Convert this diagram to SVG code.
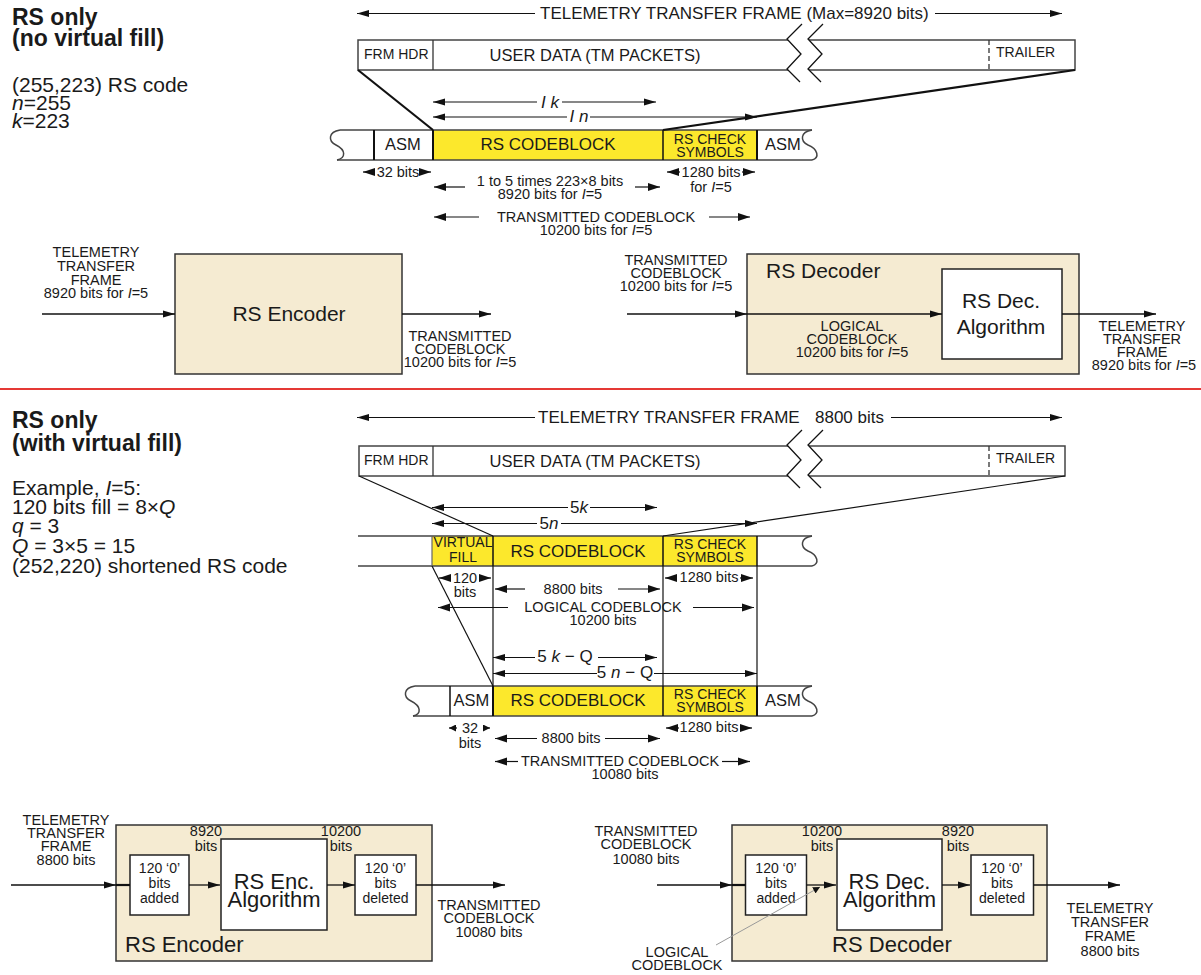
<svg xmlns="http://www.w3.org/2000/svg" width="1201" height="975" viewBox="0 0 1201 975">
<defs>
<style>
.f{font-family:'Liberation Sans',Arial,Helvetica,sans-serif;fill:#1a1a1a}
.s{font-size:14.5px}
.s14{font-size:14px}
.m{font-size:17px}
.l{font-size:21px}
.b{font-size:22px}
.h{font-size:23px;font-weight:bold}
.c{text-anchor:middle}
.i{font-style:italic}
.ln{stroke:#111;stroke-width:1.3;fill:none}
.dm{stroke:#111;stroke-width:1.2;fill:none}
.box{fill:#F5EBD2;stroke:#333;stroke-width:1.5}
.wb{fill:#fff;stroke:#222;stroke-width:1.5}
.fr{fill:#fff;stroke:#444;stroke-width:1.5}
.y{fill:#FCE82C}
.rl{stroke:#444;stroke-width:1.5;fill:none}
.dv{stroke:#111;stroke-width:2}
.dv1{stroke:#111;stroke-width:1.5}
.ck{font-size:14px}
</style>
<marker id="a" viewBox="0 0 12 8" refX="12" refY="4" markerWidth="12" markerHeight="8" markerUnits="userSpaceOnUse" orient="auto-start-reverse"><path d="M0,0.6 L12,4 L0,7.4z" fill="#111"/></marker>
<marker id="d" viewBox="0 0 12 9" refX="12" refY="4.5" markerWidth="12" markerHeight="9" markerUnits="userSpaceOnUse" orient="auto-start-reverse"><path d="M0,0.5 L12,4.5 L0,8.5z" fill="#111"/></marker>
<marker id="sm" viewBox="0 0 7 7" refX="7" refY="3.5" markerWidth="7" markerHeight="7" markerUnits="userSpaceOnUse" orient="auto-start-reverse"><path d="M0,0 L7,3.5 L0,7z" fill="#111"/></marker>
</defs>
<rect width="1201" height="975" fill="#fff"/>

<g id="notes-top">
<text class="f h" x="12" y="25">RS only</text>
<text class="f h" x="12" y="46">(no virtual fill)</text>
<text class="f l" x="12" y="92">(255,223) RS code</text>
<text class="f l" x="12" y="110"><tspan class="i">n</tspan>=255</text>
<text class="f l" x="12" y="128"><tspan class="i">k</tspan>=223</text>
</g>
<g id="notes-bottom">
<text class="f h" x="12" y="428">RS only</text>
<text class="f h" x="12" y="451">(with virtual fill)</text>
<text class="f l" x="12" y="495">Example, <tspan class="i">I</tspan>=5:</text>
<text class="f l" x="12" y="514">120 bits fill = 8×<tspan class="i">Q</tspan></text>
<text class="f l" x="12" y="533"><tspan class="i">q</tspan> = 3</text>
<text class="f l" x="12" y="553"><tspan class="i">Q</tspan> = 3×5 = 15</text>
<text class="f l" x="12" y="573">(252,220) shortened RS code</text>
</g>

<line x1="0" y1="389" x2="1201" y2="389" stroke="#E53935" stroke-width="2"/>

<g id="frame-top">
<rect class="fr" x="358" y="40" width="717" height="30"/>
<line x1="433" y1="40" x2="433" y2="70" stroke="#333" stroke-width="1.3"/>
<line x1="989" y1="40" x2="989" y2="70" stroke="#333" stroke-width="1.3" stroke-dasharray="5,3"/>
<polygon points="802,24 787,39 801,54 787,69 800,82 821,82 808,69 822,54 808,39 823,24" fill="#fff"/>
<polyline class="ln" points="802,24 787,39 801,54 787,69 800,82"/>
<polyline class="ln" points="823,24 808,39 822,54 808,69 821,82"/>
<text class="f s14" x="364" y="59">FRM HDR</text>
<text class="f c" style="font-size:16.5px" x="595" y="61">USER DATA (TM PACKETS)</text>
<text class="f s14" x="996" y="57">TRAILER</text>
</g>
<g id="frame-bottom">
<rect class="fr" x="359" y="446" width="706" height="30"/>
<line x1="433" y1="446" x2="433" y2="476" stroke="#333" stroke-width="1.3"/>
<line x1="989" y1="446" x2="989" y2="476" stroke="#333" stroke-width="1.3" stroke-dasharray="5,3"/>
<polygon points="802,430 787,445 801,460 787,475 800,488 821,488 808,475 822,460 808,445 823,430" fill="#fff"/>
<polyline class="ln" points="802,430 787,445 801,460 787,475 800,488"/>
<polyline class="ln" points="823,430 808,445 822,460 808,475 821,488"/>
<text class="f s14" x="364" y="465">FRM HDR</text>
<text class="f c" style="font-size:16.5px" x="595" y="467">USER DATA (TM PACKETS)</text>
<text class="f s14" x="996" y="463">TRAILER</text>
</g>

<g id="codeblock-top">
<rect class="y" x="433" y="130" width="324" height="30"/>
<path class="rl" d="M340,130 H812 M337,160 H812"/>
<path class="rl" d="M340,130 C328,132 328,141 336,145 C346,150 346,158 337,160"/>
<path class="rl" d="M812,130 C800,132 800,141 808,145 C818,149 820,158 812,160"/>
<line class="dv" x1="374" y1="130" x2="374" y2="160"/>
<line class="dv" x1="433" y1="130" x2="433" y2="160"/>
<line class="dv1" x1="663" y1="130" x2="663" y2="160"/>
<line class="dv" x1="757" y1="130" x2="757" y2="160"/>
<text class="f c" style="font-size:16.5px" x="403" y="150">ASM</text>
<text class="f c" style="font-size:17px" x="548" y="150">RS CODEBLOCK</text>
<text class="f c ck" x="710" y="144">RS CHECK</text>
<text class="f c ck" x="710" y="157">SYMBOLS</text>
<text class="f c" style="font-size:16.5px" x="783" y="150">ASM</text>
</g>

<g id="codeblock-logical">
<rect class="y" x="432" y="536" width="325" height="30"/>
<path class="rl" d="M358,536 H812 M358,566 H812"/>
<path class="rl" d="M812,536 C800,538 800,547 808,551 C818,555 820,564 812,566"/>
<line stroke="#666" stroke-width="1.2" x1="432" y1="536" x2="432" y2="566"/>
<line class="dv1" x1="493" y1="536" x2="493" y2="566"/>
<line class="dv1" x1="663" y1="536" x2="663" y2="566"/>
<line class="dv1" x1="757" y1="536" x2="757" y2="566"/>
<text class="f c" style="font-size:14px" x="463" y="547">VIRTUAL</text>
<text class="f c" style="font-size:14px" x="463" y="562">FILL</text>
<text class="f c" style="font-size:17px" x="578" y="557">RS CODEBLOCK</text>
<text class="f c ck" x="710" y="549">RS CHECK</text>
<text class="f c ck" x="710" y="562">SYMBOLS</text>
</g>

<g id="codeblock-transmitted">
<rect class="y" x="493" y="686" width="264" height="30"/>
<path class="rl" d="M415,686 H812 M413,716 H812"/>
<path class="rl" d="M415,686 C403,688 403,697 411,701 C421,706 422,714 413,716"/>
<path class="rl" d="M812,686 C800,688 800,697 808,701 C818,705 820,714 812,716"/>
<line class="dv1" x1="450" y1="686" x2="450" y2="716"/>
<line class="dv" x1="493" y1="686" x2="493" y2="716"/>
<line class="dv1" x1="663" y1="686" x2="663" y2="716"/>
<line class="dv" x1="757" y1="686" x2="757" y2="716"/>
<text class="f c" style="font-size:16.5px" x="471.5" y="706">ASM</text>
<text class="f c" style="font-size:17px" x="578" y="706">RS CODEBLOCK</text>
<text class="f c ck" x="710" y="699">RS CHECK</text>
<text class="f c ck" x="710" y="712">SYMBOLS</text>
<text class="f c" style="font-size:16.5px" x="783" y="706">ASM</text>
</g>

<g id="rs-encoder-top">
<rect class="box" x="175" y="254" width="227" height="120"/>
<text class="f c l" x="289" y="321">RS Encoder</text>
</g>
<g id="rs-decoder-top">
<rect class="box" x="747" y="254" width="332" height="120"/>
<text class="f l" x="766" y="278">RS Decoder</text>
<rect class="wb" x="942" y="269" width="120" height="90"/>
<text class="f c l" x="1001" y="308">RS Dec.</text>
<text class="f c l" x="1001" y="334">Algorithm</text>
</g>

<g id="rs-encoder-bottom">
<rect class="box" x="116" y="825" width="316" height="136"/>
<text class="f b" x="125" y="952">RS Encoder</text>
<rect class="wb" x="130" y="855" width="59" height="60"/>
<text class="f c s14" x="159.5" y="873">120 ‘0’</text>
<text class="f c s14" x="159.5" y="888">bits</text>
<text class="f c s14" x="159.5" y="903">added</text>
<rect class="wb" x="221" y="839" width="106" height="91"/>
<text class="f c b" x="274" y="889">RS Enc.</text>
<text class="f c b" x="274" y="907">Algorithm</text>
<rect class="wb" x="355" y="855" width="61" height="60"/>
<text class="f c s14" x="385.5" y="873">120 ‘0’</text>
<text class="f c s14" x="385.5" y="888">bits</text>
<text class="f c s14" x="385.5" y="903">deleted</text>
<text class="f c s" x="206" y="836">8920</text>
<text class="f c s" x="206" y="851">bits</text>
<text class="f c s" x="341" y="836">10200</text>
<text class="f c s" x="341" y="851">bits</text>
</g>

<g id="rs-decoder-bottom">
<rect class="box" x="732" y="825" width="315" height="136"/>
<text class="f c b" x="892" y="952">RS Decoder</text>
<rect class="wb" x="745.5" y="855" width="61" height="60"/>
<text class="f c s14" x="776" y="873">120 ‘0’</text>
<text class="f c s14" x="776" y="888">bits</text>
<text class="f c s14" x="776" y="903">added</text>
<rect class="wb" x="837" y="839" width="105" height="91"/>
<text class="f c b" x="889.5" y="889">RS Dec.</text>
<text class="f c b" x="889.5" y="907">Algorithm</text>
<rect class="wb" x="971" y="855" width="62.5" height="60"/>
<text class="f c s14" x="1002" y="873">120 ‘0’</text>
<text class="f c s14" x="1002" y="888">bits</text>
<text class="f c s14" x="1002" y="903">deleted</text>
<text class="f c s" x="822" y="836">10200</text>
<text class="f c s" x="822" y="851">bits</text>
<text class="f c s" x="958" y="836">8920</text>
<text class="f c s" x="958" y="851">bits</text>
</g>

<g id="connectors">
<line x1="358" y1="70" x2="433" y2="130" stroke="#111" stroke-width="2.2"/>
<line x1="1075" y1="70" x2="663" y2="130" stroke="#111" stroke-width="2.2"/>
<line class="dm" x1="359" y1="476" x2="493" y2="536"/>
<line class="dm" x1="1065" y1="476" x2="663" y2="536"/>
<line class="dm" x1="432" y1="566" x2="493" y2="686"/>
<line class="dm" x1="493" y1="566" x2="493" y2="686"/>
<line class="dm" x1="663" y1="566" x2="663" y2="686"/>
<line class="dm" x1="757" y1="566" x2="757" y2="686"/>

<line class="dm" x1="535" y1="13.5" x2="357" y2="13.5" marker-end="url(#a)"/>
<line class="dm" x1="935" y1="13.5" x2="1062" y2="13.5" marker-end="url(#a)"/>
<line class="dm" x1="535" y1="417.5" x2="357" y2="417.5" marker-end="url(#a)"/>
<line class="dm" x1="891" y1="417.5" x2="1062" y2="417.5" marker-end="url(#a)"/>

<line class="dm" x1="537" y1="102" x2="433" y2="102" marker-end="url(#a)"/>
<line class="dm" x1="562" y1="102" x2="656" y2="102" marker-end="url(#a)"/>
<line class="dm" x1="567" y1="117" x2="433" y2="117" marker-end="url(#a)"/>
<line class="dm" x1="590" y1="117" x2="757" y2="117" marker-end="url(#a)"/>
<line class="dm" x1="374" y1="172" x2="363" y2="172" marker-end="url(#d)"/>
<line class="dm" x1="420" y1="172" x2="431" y2="172" marker-end="url(#d)"/>
<line class="dm" x1="680" y1="172" x2="667" y2="172" marker-end="url(#d)"/>
<line class="dm" x1="742" y1="172" x2="755" y2="172" marker-end="url(#d)"/>
<line class="dm" x1="465" y1="187" x2="434" y2="187" marker-end="url(#d)" stroke-width="1.5"/>
<line class="dm" x1="635" y1="187" x2="660" y2="187" marker-end="url(#d)" stroke-width="1.5"/>
<line class="dm" x1="479" y1="217" x2="434" y2="217" marker-end="url(#d)" stroke-width="1.5"/>
<line class="dm" x1="709" y1="217" x2="750" y2="217" marker-end="url(#d)" stroke-width="1.5"/>

<line class="dm" x1="568" y1="507.5" x2="432" y2="507.5" marker-end="url(#a)"/>
<line class="dm" x1="590" y1="507.5" x2="657" y2="507.5" marker-end="url(#a)"/>
<line class="dm" x1="537" y1="523.5" x2="432" y2="523.5" marker-end="url(#a)"/>
<line class="dm" x1="561" y1="523.5" x2="757" y2="523.5" marker-end="url(#a)"/>
<line class="dm" x1="451" y1="578" x2="439" y2="578" marker-end="url(#d)"/>
<line class="dm" x1="479" y1="578" x2="491" y2="578" marker-end="url(#d)"/>
<line class="dm" x1="525" y1="589" x2="495" y2="589" marker-end="url(#d)" stroke-width="1.5"/>
<line class="dm" x1="618" y1="589" x2="660" y2="589" marker-end="url(#d)" stroke-width="1.5"/>
<line class="dm" x1="677" y1="578" x2="665" y2="578" marker-end="url(#d)"/>
<line class="dm" x1="740" y1="578" x2="753" y2="578" marker-end="url(#d)"/>
<line class="dm" x1="508" y1="607.5" x2="438" y2="607.5" marker-end="url(#d)" stroke-width="1.5"/>
<line class="dm" x1="693" y1="607.5" x2="754" y2="607.5" marker-end="url(#d)" stroke-width="1.5"/>

<line class="dm" x1="535" y1="657.5" x2="493" y2="657.5" marker-end="url(#a)"/>
<line class="dm" x1="598" y1="657.5" x2="657" y2="657.5" marker-end="url(#a)"/>
<line class="dm" x1="597" y1="673.5" x2="493" y2="673.5" marker-end="url(#a)"/>
<line class="dm" x1="654" y1="673.5" x2="757" y2="673.5" marker-end="url(#a)"/>
<line class="dm" x1="457" y1="728" x2="449" y2="728" marker-end="url(#sm)"/>
<line class="dm" x1="483" y1="728" x2="490" y2="728" marker-end="url(#sm)"/>
<line class="dm" x1="537" y1="738.5" x2="495" y2="738.5" marker-end="url(#d)" stroke-width="1.5"/>
<line class="dm" x1="605" y1="738.5" x2="660" y2="738.5" marker-end="url(#d)" stroke-width="1.5"/>
<line class="dm" x1="679" y1="728" x2="666" y2="728" marker-end="url(#d)"/>
<line class="dm" x1="740" y1="728" x2="752" y2="728" marker-end="url(#d)"/>
<line class="dm" x1="518" y1="761.5" x2="495" y2="761.5" marker-end="url(#d)" stroke-width="1.5"/>
<line class="dm" x1="722" y1="761.5" x2="750" y2="761.5" marker-end="url(#d)" stroke-width="1.5"/>

<line class="ln" x1="42" y1="314" x2="175" y2="314" marker-end="url(#a)"/>
<line class="ln" x1="402" y1="314" x2="491" y2="314" marker-end="url(#a)"/>
<line class="ln" x1="627" y1="314" x2="747" y2="314" marker-end="url(#a)"/>
<line class="ln" x1="747" y1="314" x2="942" y2="314" marker-end="url(#a)"/>
<line class="ln" x1="1062" y1="314" x2="1156" y2="314" marker-end="url(#a)"/>

<line class="ln" x1="11" y1="885" x2="116" y2="885" marker-end="url(#a)"/>
<line x1="116" y1="885" x2="130" y2="885" stroke="#111" stroke-width="2.2"/>
<line class="ln" x1="189" y1="885" x2="220" y2="885" marker-end="url(#a)"/>
<line class="ln" x1="327" y1="885" x2="355" y2="885" marker-end="url(#a)"/>
<line class="ln" x1="416" y1="885" x2="505" y2="885" marker-end="url(#a)"/>

<line class="ln" x1="657" y1="885" x2="732" y2="885" marker-end="url(#a)"/>
<line x1="732" y1="885" x2="745.5" y2="885" stroke="#111" stroke-width="2.2"/>
<line class="ln" x1="806.5" y1="885" x2="836" y2="885" marker-end="url(#a)"/>
<line class="ln" x1="942" y1="885" x2="970" y2="885" marker-end="url(#a)"/>
<line class="ln" x1="1033.5" y1="885" x2="1120" y2="885" marker-end="url(#a)"/>
<line x1="716" y1="945" x2="820" y2="887" stroke="#999" stroke-width="1" marker-end="url(#sm)"/>
</g>

<g id="labels">
<text class="f m" x="540" y="19">TELEMETRY TRANSFER FRAME (Max=8920 bits)</text>
<text class="f m" x="538" y="423">TELEMETRY TRANSFER FRAME</text>
<text class="f m" x="815" y="423">8800 bits</text>

<text class="f c m i" x="550" y="107.5">I k</text>
<text class="f c m i" x="579" y="122">I n</text>
<text class="f c s" x="398" y="177">32 bits</text>
<text class="f c s" x="711" y="177">1280 bits</text>
<text class="f c s" x="711" y="192">for <tspan class="i">I</tspan>=5</text>
<text class="f c s" x="550" y="186">1 to 5 times 223×8 bits</text>
<text class="f c s" x="550" y="199">8920 bits for <tspan class="i">I</tspan>=5</text>
<text class="f c s" x="596" y="222">TRANSMITTED CODEBLOCK</text>
<text class="f c s" x="596" y="235">10200 bits for <tspan class="i">I</tspan>=5</text>

<text class="f c m" x="579" y="513">5<tspan class="i">k</tspan></text>
<text class="f c m" x="549" y="529">5<tspan class="i">n</tspan></text>
<text class="f c s" x="465" y="583">120</text>
<text class="f c s" x="465" y="597">bits</text>
<text class="f c s" x="573" y="594">8800 bits</text>
<text class="f c s" x="709" y="582">1280 bits</text>
<text class="f c s" x="603" y="612">LOGICAL CODEBLOCK</text>
<text class="f c s" x="603" y="625">10200 bits</text>

<text class="f c m" x="565" y="662">5 <tspan class="i">k</tspan> − Q</text>
<text class="f c m" x="625" y="678">5 <tspan class="i">n</tspan> − Q</text>
<text class="f c s" x="470" y="733">32</text>
<text class="f c s" x="470" y="748">bits</text>
<text class="f c s" x="571" y="743">8800 bits</text>
<text class="f c s" x="709" y="732">1280 bits</text>
<text class="f c s" x="620" y="766">TRANSMITTED CODEBLOCK</text>
<text class="f c s" x="625" y="779">10080 bits</text>

<text class="f c s" x="96" y="257">TELEMETRY</text>
<text class="f c s" x="96" y="271">TRANSFER</text>
<text class="f c s" x="96" y="285">FRAME</text>
<text class="f c s" x="96" y="298">8920 bits for <tspan class="i">I</tspan>=5</text>
<text class="f c s" x="460" y="341">TRANSMITTED</text>
<text class="f c s" x="460" y="354">CODEBLOCK</text>
<text class="f c s" x="460" y="367">10200 bits for <tspan class="i">I</tspan>=5</text>

<text class="f c s" x="676" y="265">TRANSMITTED</text>
<text class="f c s" x="676" y="278">CODEBLOCK</text>
<text class="f c s" x="676" y="291">10200 bits for <tspan class="i">I</tspan>=5</text>
<text class="f c s" x="852" y="331">LOGICAL</text>
<text class="f c s" x="852" y="344">CODEBLOCK</text>
<text class="f c s" x="852" y="357">10200 bits for <tspan class="i">I</tspan>=5</text>
<text class="f c s" x="1142" y="331">TELEMETRY</text>
<text class="f c s" x="1142" y="344">TRANSFER</text>
<text class="f c s" x="1142" y="357">FRAME</text>
<text class="f c s" x="1144" y="370">8920 bits for <tspan class="i">I</tspan>=5</text>

<text class="f c s" x="66" y="825">TELEMETRY</text>
<text class="f c s" x="66" y="838">TRANSFER</text>
<text class="f c s" x="66" y="851">FRAME</text>
<text class="f c s" x="66" y="865">8800 bits</text>
<text class="f c s" x="489" y="910">TRANSMITTED</text>
<text class="f c s" x="489" y="923">CODEBLOCK</text>
<text class="f c s" x="489" y="937">10080 bits</text>

<text class="f c s" x="646" y="836">TRANSMITTED</text>
<text class="f c s" x="646" y="849">CODEBLOCK</text>
<text class="f c s" x="646" y="864">10080 bits</text>
<text class="f c s" x="1110" y="913">TELEMETRY</text>
<text class="f c s" x="1110" y="927">TRANSFER</text>
<text class="f c s" x="1110" y="941">FRAME</text>
<text class="f c s" x="1110" y="956">8800 bits</text>
<text class="f c s" x="677" y="957">LOGICAL</text>
<text class="f c s" x="677" y="970">CODEBLOCK</text>
</g>
</svg>
